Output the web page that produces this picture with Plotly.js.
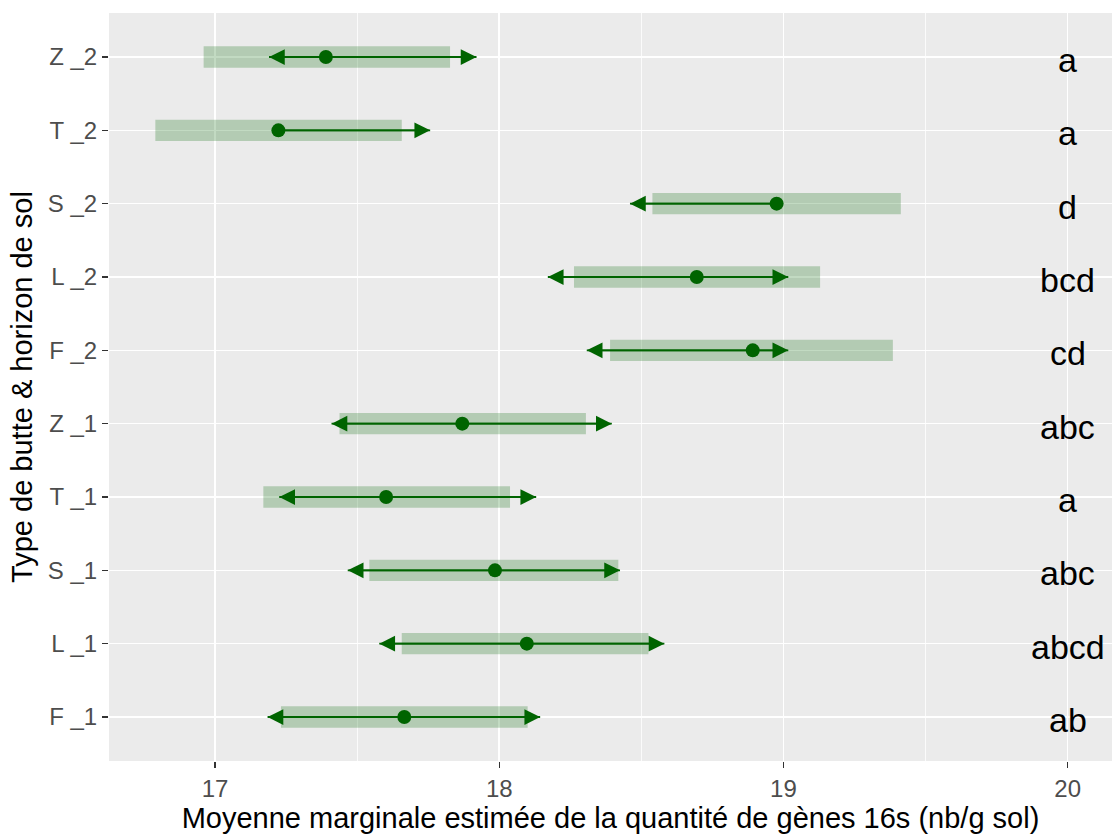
<!DOCTYPE html>
<html>
<head>
<meta charset="utf-8">
<script src="https://cdn.plot.ly/plotly-3.0.1.min.js"></script>
<style>
  html, body { margin: 0; padding: 0; background: #ffffff; }
  #chart { width: 1112px; height: 836px; }
</style>
</head>
<body>
<div id="chart"></div>
<script>
// Estimated marginal means of 16S gene quantity per mound type & soil horizon
const groups  = ['F _1', 'L _1', 'S _1', 'T _1', 'Z _1', 'F _2', 'L _2', 'S _2', 'T _2', 'Z _2'];
const emmean  = [17.666, 18.097, 17.985, 17.602, 17.870, 18.892, 18.695, 18.976, 17.223, 17.390];
const lowerCL = [17.232, 17.657, 17.543, 17.170, 17.438, 18.390, 18.263, 18.539, 16.790, 16.960];
const upperCL = [18.100, 18.525, 18.419, 18.038, 18.305, 19.385, 19.129, 19.413, 17.657, 17.827];
// comparison arrows (null where no arrow is drawn)
const lcmpl   = [17.185, 17.578, 17.467, 17.226, 17.410, 18.308, 18.171, 18.460, null,   17.190];
const rcmpl   = [18.144, 18.581, 18.425, 18.130, 18.396, 19.017, 19.017, null,   17.757, 17.920];
const letters = ['ab', 'abcd', 'abc', 'a', 'abc', 'cd', 'bcd', 'd', 'a', 'a'];

const GREEN = '#006400';
const LETTER_X = 20;
const FONT = 'Liberation Sans, Arial, sans-serif';

// confidence-interval bands
const ciBars = {
  type: 'bar',
  orientation: 'h',
  y: groups,
  base: lowerCL,
  x: upperCL.map((u, i) => u - lowerCL[i]),
  width: 0.29,
  marker: { color: 'rgba(0,100,0,0.24)', line: { width: 0 } },
  hoverinfo: 'skip',
  showlegend: false
};

// arrow shafts: from left tip (or mean) to right tip (or mean)
const shaftX = [], shaftY = [];
groups.forEach((g, i) => {
  shaftX.push(lcmpl[i] !== null ? lcmpl[i] : emmean[i],
              rcmpl[i] !== null ? rcmpl[i] : emmean[i], null);
  shaftY.push(g, g, null);
});
const shafts = {
  type: 'scatter', mode: 'lines',
  x: shaftX, y: shaftY,
  line: { color: GREEN, width: 1.8 },
  hoverinfo: 'skip', showlegend: false
};

const means = {
  type: 'scatter', mode: 'markers',
  x: emmean, y: groups,
  marker: { color: GREEN, size: 14, line: { width: 0 } },
  hoverinfo: 'skip', showlegend: false
};

// arrow heads
const annotations = [];
groups.forEach((g, i) => {
  [lcmpl[i], rcmpl[i]].forEach(tip => {
    if (tip === null) return;
    annotations.push({
      x: tip, y: g, xref: 'x', yref: 'y',
      ax: emmean[i], axref: 'x', ay: 0, ayref: 'pixel',
      text: '', showarrow: true,
      arrowhead: 2, arrowsize: 1.75, arrowwidth: 1.8,
      arrowcolor: GREEN, standoff: 0
    });
  });
});

// group letters
groups.forEach((g, i) => {
  annotations.push({
    x: LETTER_X, y: g, xref: 'x', yref: 'y',
    text: letters[i], showarrow: false,
    xanchor: 'center', yanchor: 'middle', yshift: -3,
    font: { family: FONT, size: 34, color: '#000000' }
  });
});

const tickFont = { family: FONT, size: 24, color: '#4D4D4D' };
const titleFont = { family: FONT, size: 29, color: '#000000' };

const layout = {
  width: 1112, height: 836,
  margin: { l: 109, r: 0, t: 13, b: 75, pad: 0 },
  paper_bgcolor: '#ffffff',
  plot_bgcolor: '#EBEBEB',
  barmode: 'overlay',
  showlegend: false,
  xaxis: {
    range: [16.627, 20.156],
    tickvals: [17, 18, 19, 20],
    ticktext: ['17', '18', '19', '20'],
    ticks: 'outside', ticklen: 6, tickwidth: 1.2, tickcolor: '#333333',
    tickfont: tickFont,
    showgrid: true, gridcolor: '#FFFFFF', gridwidth: 1.6,
    minor: { tickvals: [16.5, 17.5, 18.5, 19.5], showgrid: true, gridcolor: '#FFFFFF', gridwidth: 0.8, ticks: '' },
    zeroline: false, showline: false,
    title: { text: 'Moyenne marginale estimée de la quantité de gènes 16s (nb/g sol)', font: titleFont, standoff: 2 },
    automargin: false, fixedrange: true
  },
  yaxis: {
    type: 'category',
    categoryorder: 'array', categoryarray: groups,
    range: [-0.6, groups.length - 0.4],
    ticks: 'outside', ticklen: 6, tickwidth: 1.2, tickcolor: '#333333',
    tickfont: tickFont,
    showgrid: true, gridcolor: '#FFFFFF', gridwidth: 1.6,
    zeroline: false, showline: false,
    title: { text: 'Type de butte & horizon de sol', font: titleFont, standoff: 6 },
    automargin: false, fixedrange: true
  },
  annotations: annotations
};

Plotly.newPlot('chart', [ciBars, shafts, means], layout, { staticPlot: true, displayModeBar: false });
</script>
</body>
</html>
